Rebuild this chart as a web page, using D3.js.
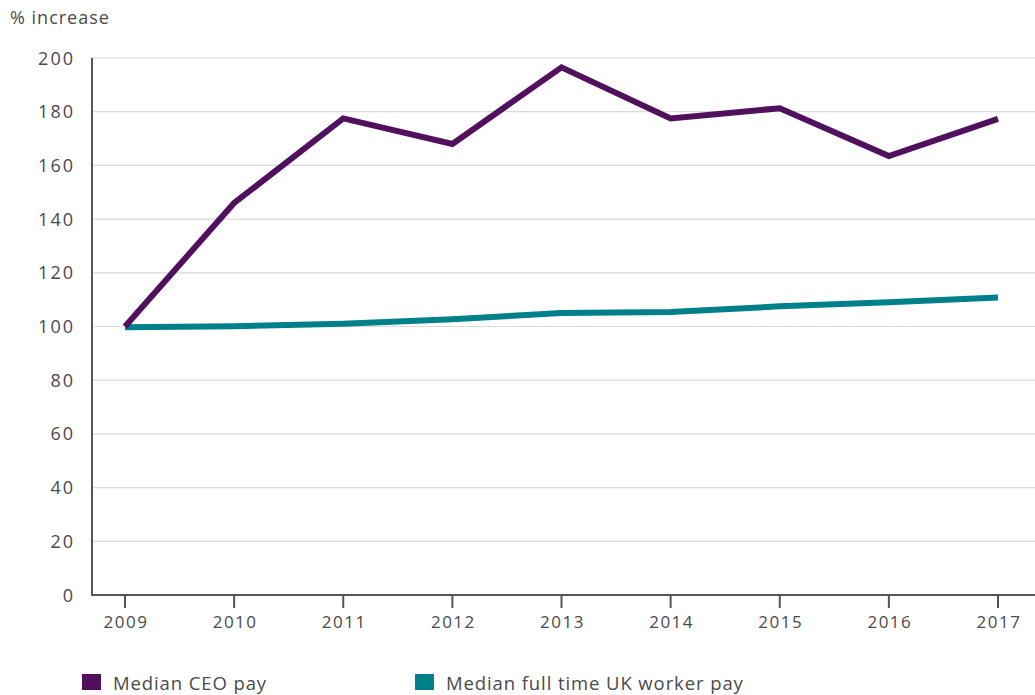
<!DOCTYPE html>
<html>
<head>
<meta charset="utf-8">
<script src="https://cdn.jsdelivr.net/npm/d3@7"></script>
<style>
  html, body { margin: 0; padding: 0; background: #fff; }
  svg { display: block; font-family: "Open Sans", "DejaVu Sans", sans-serif; }
</style>
</head>
<body>
<svg id="chart" width="1035" height="695"></svg>
<script>
// Years on the x axis
const years = [2009, 2010, 2011, 2012, 2013, 2014, 2015, 2016, 2017];
// Index of pay, 2009 = 100
const ceoPay = [100, 146, 177.5, 168, 196.5, 177.5, 181.3, 163.5, 177.3];
const workerPay = [99.7, 100.1, 101, 102.7, 105, 105.4, 107.5, 109, 110.8];
// Y-axis tick values
const yTicks = [0, 20, 40, 60, 80, 100, 120, 140, 160, 180, 200];
const seriesNames = ["Median CEO pay", "Median full time UK worker pay"];
const seriesColors = ["#50105d", "#00808a"];

const svg = d3.select("#chart");
const plotLeft = 92, plotRight = 1035, plotTop = 58, plotBottom = 595;
const textColor = "#4a4a4a";

const x = d3.scalePoint().domain(years).range([125, 998]);
const y = d3.scaleLinear().domain([0, 200]).range([plotBottom, plotTop]);

// Horizontal gridlines
svg.append("g")
  .selectAll("line")
  .data(yTicks.filter(d => d > 0))
  .join("line")
  .attr("x1", plotLeft).attr("x2", plotRight)
  .attr("y1", d => y(d)).attr("y2", d => y(d))
  .attr("stroke", "#d9d9d9").attr("stroke-width", 1.2);

// Y axis labels
svg.append("g")
  .selectAll("text")
  .data(yTicks)
  .join("text")
  .attr("x", 75).attr("y", d => y(d) + 6.5)
  .attr("text-anchor", "end")
  .attr("font-size", 18).attr("letter-spacing", 2)
  .attr("fill", textColor)
  .text(d => d);

// Axis lines
svg.append("line")
  .attr("x1", plotLeft).attr("x2", plotLeft).attr("y1", plotTop).attr("y2", plotBottom + 1)
  .attr("stroke", "#555").attr("stroke-width", 2);
svg.append("line")
  .attr("x1", plotLeft - 1).attr("x2", plotRight).attr("y1", plotBottom).attr("y2", plotBottom)
  .attr("stroke", "#555").attr("stroke-width", 2);

// X ticks and labels
const xg = svg.append("g");
xg.selectAll("line")
  .data(years)
  .join("line")
  .attr("x1", d => x(d)).attr("x2", d => x(d))
  .attr("y1", plotBottom).attr("y2", plotBottom + 13)
  .attr("stroke", "#555").attr("stroke-width", 2);
xg.selectAll("text")
  .data(years)
  .join("text")
  .attr("x", d => x(d) + 1).attr("y", 628)
  .attr("text-anchor", "middle")
  .attr("font-size", 17).attr("letter-spacing", 1.5)
  .attr("fill", textColor)
  .text(d => d);

// Y axis title
svg.append("text")
  .attr("x", 10).attr("y", 24)
  .attr("font-size", 18).attr("letter-spacing", 1)
  .attr("fill", textColor)
  .text("% increase");

// Series lines (worker pay first so CEO pay sits on top at the start)
const line = d3.line().x((d, i) => x(years[i])).y(d => y(d));
[[workerPay, seriesColors[1]], [ceoPay, seriesColors[0]]].forEach(([vals, color]) => {
  svg.append("path")
    .datum(vals)
    .attr("d", line)
    .attr("fill", "none")
    .attr("stroke", color)
    .attr("stroke-width", 6)
    .attr("stroke-linejoin", "miter");
});

// Legend
const legendX = [82, 415];
const lg = svg.append("g")
  .selectAll("g")
  .data(seriesNames)
  .join("g")
  .attr("transform", (d, i) => `translate(${legendX[i]},674)`);
lg.append("rect")
  .attr("width", 19).attr("height", 16)
  .attr("fill", (d, i) => seriesColors[i]);
lg.append("text")
  .attr("x", 31).attr("y", 16)
  .attr("font-size", 18.5).attr("letter-spacing", 0.9)
  .attr("fill", textColor)
  .text(d => d);
</script>
</body>
</html>
